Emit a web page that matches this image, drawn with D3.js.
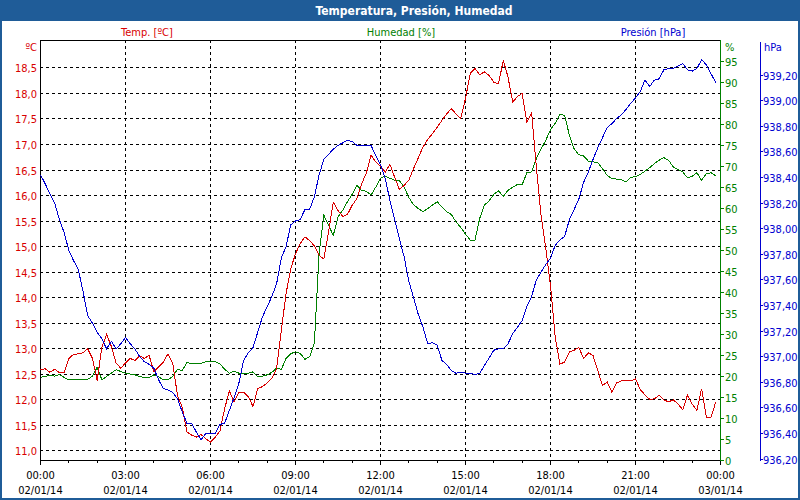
<!DOCTYPE html>
<html><head><meta charset="utf-8">
<script src="https://cdn.jsdelivr.net/npm/d3@7"></script>
<style>
html,body{margin:0;padding:0;background:#fff;overflow:hidden;}
svg{display:block;}
text{font-family:Tahoma,"DejaVu Sans Condensed","DejaVu Sans",sans-serif;font-size:11px;}
</style></head><body>
<svg id="chart" width="800" height="500"></svg>
<script>
const chartTitle = "Temperatura, Presión, Humedad";
const seriesNames = ["Temp. [ºC]", "Humedad [%]", "Presión [hPa]"];
const unitLabels = ["ºC", "%", "hPa"];
const startTime = new Date(2014, 0, 2, 0, 0);
const endTime = new Date(2014, 0, 3, 0, 0);
const stepMinutes = 10;

// 10-minute samples, 00:00 .. 23:50
const temperature = [
 12.58,12.60,12.53,12.59,12.52,12.52,12.80,12.88,12.89,12.91,12.99,12.80,12.37,13.02,13.27,13.04,12.71,12.61,12.71,12.80,12.76,12.85,12.80,12.86,12.54,12.63,12.73,12.89,12.71,12.08,11.85,11.36,11.30,11.26,11.31,11.23,
 11.16,11.26,11.38,11.82,12.16,11.95,12.14,12.14,12.05,11.86,12.21,12.25,12.32,12.42,12.60,13.35,14.07,14.56,14.85,15.05,15.18,15.11,15.00,14.82,14.75,15.28,15.86,15.70,15.58,15.62,15.80,15.93,16.22,16.43,16.78,16.65,
 16.56,16.45,16.60,16.35,16.11,16.19,16.29,16.52,16.73,16.94,17.09,17.20,17.33,17.46,17.59,17.69,17.59,17.50,17.89,18.38,18.48,18.36,18.41,18.34,18.21,18.18,18.64,18.31,17.82,17.93,17.99,17.43,17.61,16.55,15.60,14.95,
 14.23,13.22,12.69,12.73,12.93,12.96,13.02,12.80,12.91,12.86,12.57,12.27,12.34,12.14,12.32,12.36,12.37,12.36,12.40,12.19,12.09,12.00,12.01,12.08,11.99,11.95,11.99,11.91,11.80,12.08,11.91,11.78,12.21,11.65,11.65,11.95
];
const humidity = [
 19.8,20.0,20.3,20.1,20.5,19.8,19.2,19.2,19.2,19.2,19.3,20.1,22.2,19.2,20.0,20.8,21.6,21.2,20.8,20.6,20.4,20.0,19.7,19.7,20.4,20.0,19.2,19.2,20.0,21.7,21.4,23.3,23.1,23.1,23.1,23.5,
 23.5,23.5,23.0,21.7,20.8,21.3,20.8,20.7,20.8,21.1,20.0,20.1,20.4,21.0,22.0,21.7,24.3,25.4,25.9,25.5,24.1,24.7,28.0,49.3,58.4,56.0,53.6,58.0,59.6,61.6,63.4,65.5,64.3,64.1,63.2,65.1,
 67.2,67.7,67.2,66.7,66.6,65.1,62.6,60.9,60.0,59.2,60.0,60.8,61.6,60.4,59.2,58.6,56.8,55.5,53.9,52.5,52.5,57.6,60.8,61.8,63.4,64.2,62.9,64.3,65.1,65.7,65.7,68.5,68.7,71.9,74.2,76.2,
 78.8,80.3,82.4,82.2,77.4,74.2,72.8,72.5,71.3,71.1,70.9,69.5,67.9,67.1,67.0,66.9,66.3,67.4,67.6,68.1,68.9,69.7,70.7,71.5,72.1,71.5,69.9,69.3,68.7,67.3,67.7,68.5,66.7,68.3,68.5,67.8
];
const pressure = [
 938.42,938.35,938.27,938.20,938.07,937.97,937.83,937.75,937.68,937.51,937.32,937.26,937.19,937.14,937.06,937.12,937.06,937.10,937.15,937.10,937.06,937.00,936.96,936.94,936.91,936.82,936.75,936.74,936.72,936.67,936.57,936.48,936.48,936.41,936.35,936.40,
 936.40,936.40,936.47,936.48,936.58,936.68,936.79,936.97,937.03,937.07,937.19,937.31,937.39,937.47,937.57,937.77,937.86,938.03,938.06,938.07,938.15,938.15,938.25,938.42,938.54,938.58,938.62,938.65,938.67,938.69,938.68,938.65,938.65,938.65,938.65,938.57,
 938.50,938.39,938.22,938.07,937.92,937.78,937.59,937.46,937.33,937.23,937.10,937.11,937.09,936.97,936.94,936.89,936.87,936.88,936.87,936.87,936.86,936.87,936.93,936.99,937.05,937.06,937.06,937.10,937.18,937.23,937.28,937.39,937.47,937.60,937.66,937.72,
 937.77,937.87,937.91,937.94,938.07,938.15,938.23,938.36,938.44,938.54,938.63,938.71,938.79,938.82,938.86,938.89,938.93,938.98,939.02,939.07,939.16,939.11,939.16,939.17,939.24,939.25,939.25,939.27,939.29,939.24,939.23,939.25,939.32,939.28,939.21,939.14
];

const tempTicks = [11.0,11.5,12.0,12.5,13.0,13.5,14.0,14.5,15.0,15.5,16.0,16.5,17.0,17.5,18.0,18.5];
const humTicks = [0,5,10,15,20,25,30,35,40,45,50,55,60,65,70,75,80,85,90,95];
const presTicks = [936.2,936.4,936.6,936.8,937.0,937.2,937.4,937.6,937.8,938.0,938.2,938.4,938.6,938.8,939.0,939.2];
const timeTickHours = [0,3,6,9,12,15,18,21,24];
const timeTickLabels = ["00:00","03:00","06:00","09:00","12:00","15:00","18:00","21:00","00:00"];
const dateTickLabels = ["02/01/14","02/01/14","02/01/14","02/01/14","02/01/14","02/01/14","02/01/14","02/01/14","03/01/14"];

const C = {frame:"#1f5c98", red:"#d80000", green:"#008000", blue:"#0000d0", redText:"#d80000", greenText:"#008000", blueText:"#0000d0"};
const times = temperature.map((_, i) => new Date(startTime.getTime() + i * stepMinutes * 60000));

const svg = d3.select("#chart");
const L = 40, R = 720, T = 40, B = 460;

const x = d3.scaleTime().domain([startTime, endTime]).range([L + 0.5, R + 0.5]);
const yT = d3.scaleLinear().domain([11, 18.5]).range([450.4, 67.4]);
const yH = d3.scaleLinear().domain([0, 100]).range([B + 0.5, T + 0.5]);
const yP = d3.scaleLinear().domain([936.2, 939.2]).range([459, 75]);
const fmtC = v => v.toFixed(1).replace(".", ",");
const fmtP = v => v.toFixed(2).replace(".", ",");

svg.append("rect").attr("width", 800).attr("height", 500).attr("fill", "#fff");

// title bar and frame
svg.append("rect").attr("x", 0).attr("y", 0).attr("width", 800).attr("height", 21).attr("fill", C.frame);
svg.append("rect").attr("x", 1).attr("y", 1).attr("width", 798).attr("height", 498)
  .attr("fill", "none").attr("stroke", C.frame).attr("stroke-width", 2);
svg.append("text").attr("x", 414).attr("y", 14.5).attr("text-anchor", "middle")
  .attr("fill", "#fff").style("font-weight", "bold").style("font-size", "12px").text(chartTitle);

// series header labels
const headerX = [147, 401, 653];
const headerCol = [C.redText, C.greenText, C.blueText];
seriesNames.forEach((s, i) => {
  svg.append("text").attr("x", headerX[i]).attr("y", 36).attr("text-anchor", "middle")
    .attr("fill", headerCol[i]).text(s);
});
svg.append("text").attr("x", 37).attr("y", 51).attr("text-anchor", "end").attr("fill", C.redText).text(unitLabels[0]);
svg.append("text").attr("x", 725).attr("y", 51).attr("fill", C.greenText).text(unitLabels[1]);
svg.append("text").attr("x", 764).attr("y", 51).attr("fill", C.blueText).text(unitLabels[2]);

// grid
const grid = svg.append("g").attr("stroke", "#000").attr("stroke-dasharray", "3,3").attr("shape-rendering", "crispEdges");
tempTicks.forEach(v => {
  const yy = Math.round(yT(v)) + 0.5;
  grid.append("line").attr("x1", L).attr("x2", R).attr("y1", yy).attr("y2", yy);
});
timeTickHours.slice(1, -1).forEach(h => {
  const xx = Math.floor(x(new Date(startTime.getTime() + h * 3600000))) + 0.5;
  grid.append("line").attr("x1", xx).attr("x2", xx).attr("y1", T).attr("y2", B);
});

// left temp axis
const gT = svg.append("g").attr("shape-rendering", "crispEdges");
gT.append("line").attr("x1", L + 0.5).attr("x2", L + 0.5).attr("y1", T).attr("y2", B + 1).attr("stroke", "#000");
gT.append("line").attr("x1", L).attr("x2", R + 1).attr("y1", T + 0.5).attr("y2", T + 0.5).attr("stroke", "#000");
tempTicks.forEach(v => {
  svg.append("text").attr("x", 37).attr("y", Math.round(yT(v)) + 4.5).attr("text-anchor", "end")
    .attr("fill", C.redText).text(fmtC(v));
});

// bottom time axis
const gX = svg.append("g").attr("shape-rendering", "crispEdges").attr("stroke", "#000");
gX.append("line").attr("x1", L).attr("x2", R + 1).attr("y1", B + 0.5).attr("y2", B + 0.5);
d3.range(0, 25).forEach(h => {
  const xx = Math.floor(x(new Date(startTime.getTime() + h * 3600000))) + 0.5;
  gX.append("line").attr("x1", xx).attr("x2", xx).attr("y1", B).attr("y2", B + (h % 3 === 0 ? 5 : 3));
});
timeTickHours.forEach((h, i) => {
  const xx = x(new Date(startTime.getTime() + h * 3600000));
  svg.append("text").attr("x", xx).attr("y", 479).attr("text-anchor", "middle").attr("fill", "#000").text(timeTickLabels[i]);
  svg.append("text").attr("x", xx).attr("y", 494).attr("text-anchor", "middle").attr("fill", "#000").text(dateTickLabels[i]);
});

// humidity axis (right of plot)
const gH = svg.append("g").attr("shape-rendering", "crispEdges").attr("stroke", C.green);
gH.append("line").attr("x1", R + 0.5).attr("x2", R + 0.5).attr("y1", T).attr("y2", B + 1);
humTicks.forEach(v => {
  const yy = Math.round(yH(v) - 0.5) + 0.5;
  gH.append("line").attr("x1", R).attr("x2", R + 4).attr("y1", yy).attr("y2", yy);
  svg.append("text").attr("x", 725).attr("y", yy + 4).attr("fill", C.greenText).text(v);
});

// pressure axis
const gP = svg.append("g").attr("shape-rendering", "crispEdges").attr("stroke", C.blue);
gP.append("line").attr("x1", 760.5).attr("x2", 760.5).attr("y1", 42).attr("y2", 461);
presTicks.forEach(v => {
  const yy = Math.round(yP(v) - 0.5) + 0.5;
  gP.append("line").attr("x1", 760).attr("x2", 763).attr("y1", yy).attr("y2", yy);
  svg.append("text").attr("x", 763).attr("y", yy + 4).attr("fill", C.blueText).text(fmtP(v));
});

// series lines (aliased 1px, like the original)
const plot = svg.append("g").attr("shape-rendering", "crispEdges");
const mk = (arr, ys) => d3.line().x((d, i) => x(times[i])).y(d => ys(d))(arr);
plot.append("path").attr("d", mk(humidity, yH)).attr("fill", "none").attr("stroke", C.green).attr("stroke-width", 1);
plot.append("path").attr("d", mk(temperature, yT)).attr("fill", "none").attr("stroke", C.red).attr("stroke-width", 1);
plot.append("path").attr("d", mk(pressure, yP)).attr("fill", "none").attr("stroke", C.blue).attr("stroke-width", 1);
</script>
</body></html>
